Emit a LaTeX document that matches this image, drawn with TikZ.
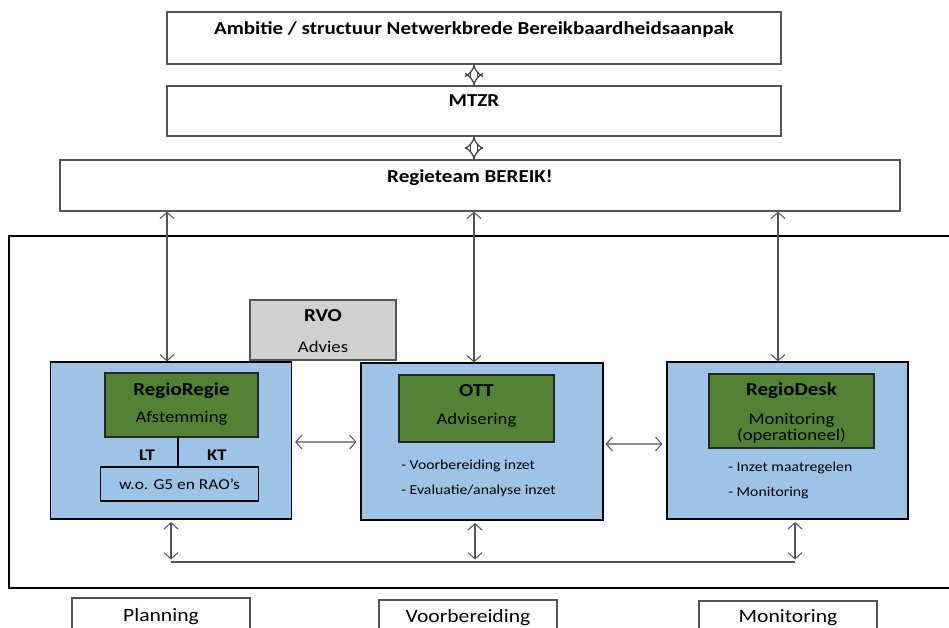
\documentclass[tikz,border=0pt]{standalone}
\usepackage{fontspec}
\setmainfont[FakeStretch=1.15]{Carlito}
\usetikzlibrary{arrows.meta, positioning}
\definecolor{unitblue}{HTML}{9DC3E6}
\definecolor{coregreen}{HTML}{548235}
\definecolor{rvogray}{HTML}{D0D0D0}
\definecolor{edgegray}{HTML}{555555}
\tikzstyle{level} = [rectangle, draw=edgegray, line width=0.8pt, fill=white, inner sep=0pt]
\tikzstyle{unit} = [rectangle, draw=black, line width=0.7pt, fill=unitblue, inner sep=0pt]
\tikzstyle{core} = [rectangle, draw=black!85, line width=0.7pt, fill=coregreen, inner sep=0pt]
\tikzstyle{advice} = [rectangle, draw=edgegray, line width=0.8pt, fill=rvogray, inner sep=0pt]
\tikzstyle{title} = [font=\bfseries\fontsize{10.4pt}{12}\selectfont, inner sep=0pt]
\tikzstyle{subtitle} = [font=\fontsize{9.3pt}{11}\selectfont, inner sep=0pt]
\tikzstyle{item} = [font=\fontsize{7.8pt}{9}\selectfont, inner sep=0pt, anchor=mid west]
\tikzstyle{phase} = [font=\fontsize{10.7pt}{12}\selectfont, inner sep=0pt]
\tikzstyle{arrow} = [draw=edgegray, line width=0.6pt, {Straight Barb[length=3.5pt,width=8pt]}-{Straight Barb[length=3.5pt,width=8pt]}]
\tikzstyle{hollow} = [draw=black!75, double, double distance=3pt, line width=0.7pt, {Implies}-{Implies}]

\begin{document}
\begin{tikzpicture}[x=0.02cm, y=-0.02cm]
    \useasboundingbox (0,0) rectangle (949,627);

    % governance levels
    \node (ambitie) [level, minimum width=12.28cm, minimum height=1.04cm] at (474,38) {};
    \node (mtzr) [level, minimum width=12.28cm, minimum height=1.0cm] at (474,111) {};
    \node (regieteam) [level, minimum width=16.8cm, minimum height=1.02cm] at (480,185.5) {};
    \node (ambitietxt) [title, below=0.2cm of ambitie.north] {Ambitie / structuur Netwerkbrede Bereikbaardheidsaanpak};
    \node (mtzrtxt) [title, below=0.18cm of mtzr.north] {MTZR};
    \node (regieteamtxt) [title, below=0.21cm of regieteam.north, xshift=-0.2cm] {Regieteam BEREIK!};

    \draw [hollow] (ambitie) -- (mtzr);
    \draw [hollow] (mtzr.south) -- (regieteam.north -| mtzr.south);

    % regional frame
    \draw [line width=0.6pt] (9,236) rectangle (960,588);

    \node (rvo) [advice, minimum width=2.92cm, minimum height=1.2cm] at (323,330) {};
    \node (rvotxt) [title, below=0.2cm of rvo.north] {RVO};
    \node (rvoadvies) [subtitle, below=0.83cm of rvo.north] {Advies};

    \node (leftunit) [unit, minimum width=4.82cm, minimum height=3.14cm] at (171,440.5) {};
    \node (midunit) [unit, minimum width=4.84cm, minimum height=3.14cm] at (482,441.5) {};
    \node (rightunit) [unit, minimum width=4.82cm, minimum height=3.14cm] at (787.5,440.5) {};

    \node (regioregie) [core, minimum width=3.06cm, minimum height=1.28cm] at (181.5,405) {};
    \node (ott) [core, minimum width=3.1cm, minimum height=1.34cm] at (476.5,408.5) {};
    \node (regiodesk) [core, minimum width=3.3cm, minimum height=1.48cm] at (791.5,411) {};

    \node (regioregietxt) [title, below=0.2cm of regioregie.north] {RegioRegie};
    \node (afstemming) [subtitle, below=0.77cm of regioregie.north] {Afstemming};
    \node (otttxt) [title, below=0.2cm of ott.north] {OTT};
    \node (advisering) [subtitle, below=0.77cm of ott.north] {Advisering};
    \node (regiodesktxt) [title, below=0.18cm of regiodesk.north] {RegioDesk};
    \node (monitoringtxt) [subtitle, below=0.8cm of regiodesk.north] {Monitoring};
    \node (operationeel) [subtitle, below=1.1cm of regiodesk.north] {(operationeel)};

    \node (g5) [unit, minimum width=3.16cm, minimum height=0.68cm, font=\fontsize{8.6pt}{10}\selectfont] at (179.5,484) {w.o. G5 en RAO’s};
    \draw [line width=0.6pt] (regioregie.south -| 178,0) -- (g5.north -| 178,0);
    \node (lt) [title, font=\bfseries\fontsize{9.3pt}{11}\selectfont] at (147,455) {LT};
    \node (kt) [title, font=\bfseries\fontsize{9.3pt}{11}\selectfont] at (217,455) {KT};

    \node (voorbereiding) [item] at (401,465) {- Voorbereiding inzet};
    \node (evaluatie) [item] at (401,490) {- Evaluatie/analyse inzet};
    \node (maatregelen) [item] at (728,467) {- Inzet maatregelen};
    \node (monitoringitem) [item] at (728,492) {- Monitoring};

    % links to Regieteam and between units
    \draw [arrow] ([xshift=-0.08cm]leftunit.north) -- ([xshift=-0.08cm]leftunit.north |- regieteam.south);
    \draw [arrow] ([xshift=-0.16cm]midunit.north) -- ([xshift=-0.16cm]midunit.north |- regieteam.south);
    \draw [arrow] ([xshift=-0.19cm]rightunit.north) -- ([xshift=-0.19cm]rightunit.north |- regieteam.south);
    \draw [arrow, shorten <=0.06cm, shorten >=0.08cm] ([yshift=-0.03cm]leftunit.east) -- ([yshift=-0.01cm]midunit.west);
    \draw [arrow, shorten <=0.04cm, shorten >=0.08cm] ([yshift=-0.05cm]midunit.east) -- ([yshift=-0.07cm]rightunit.west);

    \coordinate (busleft) at (171,562);
    \coordinate (busright) at (795,562);
    \draw [arrow, shorten <=0.05cm, shorten >=0.05cm] (leftunit.south) -- (leftunit.south |- busleft);
    \draw [arrow, shorten <=0.05cm, shorten >=0.05cm] ([xshift=-0.14cm]midunit.south) -- ([xshift=-0.14cm]midunit.south |- busleft);
    \draw [arrow, shorten <=0.05cm, shorten >=0.05cm] ([xshift=0.15cm]rightunit.south) -- ([xshift=0.15cm]rightunit.south |- busleft);
    \draw [draw=edgegray, line width=0.6pt] (busleft) -- (busright);

    % phases
    \node (planning) [level, minimum width=3.56cm, minimum height=1.04cm] at (161,624) {};
    \node (voorbereidingbox) [level, minimum width=3.56cm, minimum height=1.04cm] at (468,626) {};
    \node (monitoringbox) [level, minimum width=3.56cm, minimum height=1.04cm] at (788,627) {};
    \node (planningtxt) [phase, below=0.22cm of planning.north] {Planning};
    \node (voorbereidingtxt) [phase, below=0.2cm of voorbereidingbox.north] {Voorbereiding};
    \node (monitoringboxtxt) [phase, below=0.18cm of monitoringbox.north] {Monitoring};
\end{tikzpicture}
\end{document}
